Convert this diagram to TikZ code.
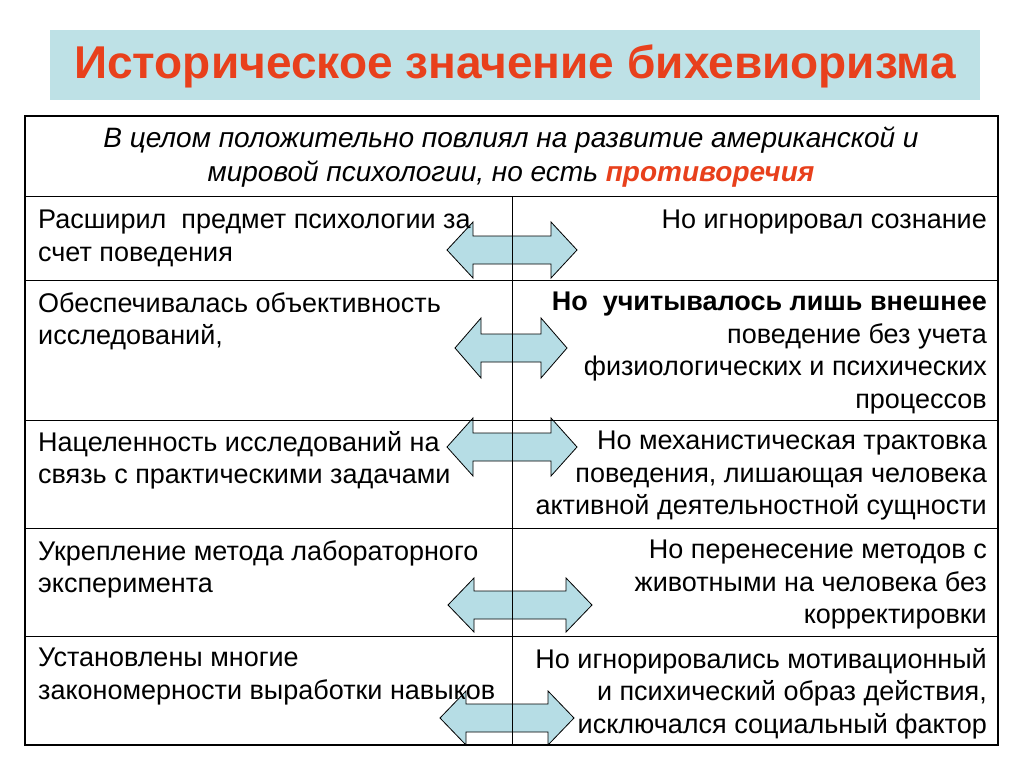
\documentclass[tikz,border=0pt]{standalone}
\usepackage{fontspec}
\setmainfont{Liberation Sans}
\definecolor{titlebg}{HTML}{BEE1E6}
\definecolor{titlered}{HTML}{E8401C}
\definecolor{arrowfill}{HTML}{B6DDE5}
\tikzset{
  cell/.style={inner sep=0pt, font=\fontsize{27}{32.5}\selectfont},
  dblarr/.style={draw=black, fill=arrowfill, line width=0.8pt, line join=miter}
}
% double arrow: centre x, centre y, half width, half height, half shaft
\newcommand{\dblarrow}[5]{%
  \draw[dblarr] ({#1-#3},#2) -- ({#1-#3+26},{#2-#4}) -- ({#1-#3+26},{#2-#5})
    -- ({#1+#3-26},{#2-#5}) -- ({#1+#3-26},{#2-#4}) -- ({#1+#3},#2)
    -- ({#1+#3-26},{#2+#4}) -- ({#1+#3-26},{#2+#5}) -- ({#1-#3+26},{#2+#5})
    -- ({#1-#3+26},{#2+#4}) -- cycle;}
\begin{document}
\begin{tikzpicture}[x=1pt, y=-1pt]
  \useasboundingbox (0,0) rectangle (1024,767);
  \fill[white] (0,0) rectangle (1024,767);
  % title
  \node[fill=titlebg, minimum width=930, minimum height=70, inner sep=0pt] (title) at (515,65) {};
  \node[font=\fontsize{46}{50}\selectfont\bfseries, text=titlered] (tt) at (515,66) {Историческое значение бихевиоризма};

  % arrows
  \dblarrow{512}{250}{65}{28}{14}
  \dblarrow{511}{348}{56}{30}{14}
  \dblarrow{512}{447}{65}{29}{14}
  \dblarrow{520}{605}{72}{27}{14}
  \dblarrow{507}{718}{67}{27}{14}

  % table
  \draw[line width=2.5pt] (25,116) rectangle (998,745);
  \draw[line width=1pt] (25,197) -- (998,197);
  \draw[line width=1pt] (25,280) -- (998,280);
  \draw[line width=1pt] (25,420) -- (998,420);
  \draw[line width=1pt] (25,528) -- (998,528);
  \draw[line width=1pt] (25,636) -- (998,636);
  \draw[line width=1pt] (512,197) -- (512,745);

  \node[cell, align=center, font=\fontsize{28}{34}\selectfont\itshape] (head) at (511,157)
    {В целом положительно повлиял на развитие американской и\\мировой психологии, но есть \textcolor{titlered}{\bfseries противоречия}};

  \node[cell, anchor=north west, align=left] (l1) at (38,210) {Расширил\ \ предмет психологии за\\счет поведения};
  \node[cell, anchor=north east, align=right] (r1) at (987,210) {Но игнорировал сознание};

  \node[cell, anchor=north west, align=left] (l2) at (38,292) {Обеспечивалась объективность\\исследований,};
  \node[cell, anchor=north east, align=right] (r2) at (987,292) {\bfseries Но\ \ учитывалось лишь внешнее\\поведение без учета\\физиологических и психических\\процессов};

  \node[cell, anchor=north west, align=left] (l3) at (38,431) {Нацеленность исследований на\\связь с практическими задачами};
  \node[cell, anchor=north east, align=right] (r3) at (987,431) {Но механистическая трактовка\\поведения, лишающая человека\\активной деятельностной сущности};

  \node[cell, anchor=north west, align=left] (l4) at (38,540) {Укрепление метода лабораторного\\эксперимента};
  \node[cell, anchor=north east, align=right] (r4) at (987,540) {Но перенесение методов с\\животными на человека без\\корректировки};

  \node[cell, anchor=north west, align=left] (l5) at (38,648) {Установлены многие\\закономерности выработки навыков};
  \node[cell, anchor=north east, align=right] (r5) at (987,648) {Но игнорировались мотивационный\\и психический образ действия,\\исключался социальный фактор};
\end{tikzpicture}
\end{document}
